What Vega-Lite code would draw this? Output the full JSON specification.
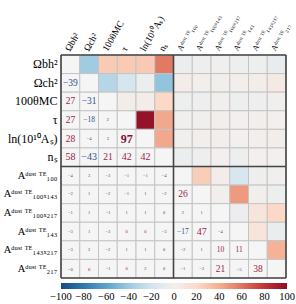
{
  "$schema": "https://vega.github.io/schema/vega-lite/v6.json",
  "width": 225,
  "height": 223,
  "autosize": {"type": "none"},
  "padding": {"left": 61, "top": 55, "right": 10, "bottom": 26},
  "background": "white",
  "datasets": {
    "corr": [
      {"i":0,"j":0,"v":100},{"i":0,"j":1,"v":-39},{"i":0,"j":2,"v":27},{"i":0,"j":3,"v":27},{"i":0,"j":4,"v":28},{"i":0,"j":5,"v":58},{"i":0,"j":6,"v":-4},{"i":0,"j":7,"v":-2},{"i":0,"j":8,"v":-1},{"i":0,"j":9,"v":-3},{"i":0,"j":10,"v":-3},{"i":0,"j":11,"v":-6},
      {"i":1,"j":0,"v":-39},{"i":1,"j":1,"v":100},{"i":1,"j":2,"v":-31},{"i":1,"j":3,"v":-18},{"i":1,"j":4,"v":-4},{"i":1,"j":5,"v":-43},{"i":1,"j":6,"v":3},{"i":1,"j":7,"v":1},{"i":1,"j":8,"v":1},{"i":1,"j":9,"v":1},{"i":1,"j":10,"v":2},{"i":1,"j":11,"v":6},
      {"i":2,"j":0,"v":27},{"i":2,"j":1,"v":-31},{"i":2,"j":2,"v":100},{"i":2,"j":3,"v":2},{"i":2,"j":4,"v":3},{"i":2,"j":5,"v":21},{"i":2,"j":6,"v":-3},{"i":2,"j":7,"v":-2},{"i":2,"j":8,"v":-1},{"i":2,"j":9,"v":-3},{"i":2,"j":10,"v":-2},{"i":2,"j":11,"v":-1},
      {"i":3,"j":0,"v":27},{"i":3,"j":1,"v":-18},{"i":3,"j":2,"v":2},{"i":3,"j":3,"v":100},{"i":3,"j":4,"v":97},{"i":3,"j":5,"v":42},{"i":3,"j":6,"v":-1},{"i":3,"j":7,"v":-1},{"i":3,"j":8,"v":1},{"i":3,"j":9,"v":0},{"i":3,"j":10,"v":1},{"i":3,"j":11,"v":0},
      {"i":4,"j":0,"v":28},{"i":4,"j":1,"v":-4},{"i":4,"j":2,"v":3},{"i":4,"j":3,"v":97},{"i":4,"j":4,"v":100},{"i":4,"j":5,"v":42},{"i":4,"j":6,"v":-1},{"i":4,"j":7,"v":1},{"i":4,"j":8,"v":1},{"i":4,"j":9,"v":0},{"i":4,"j":10,"v":1},{"i":4,"j":11,"v":2},
      {"i":5,"j":0,"v":58},{"i":5,"j":1,"v":-43},{"i":5,"j":2,"v":21},{"i":5,"j":3,"v":42},{"i":5,"j":4,"v":42},{"i":5,"j":5,"v":100},{"i":5,"j":6,"v":-4},{"i":5,"j":7,"v":-2},{"i":5,"j":8,"v":0},{"i":5,"j":9,"v":-3},{"i":5,"j":10,"v":0},{"i":5,"j":11,"v":0},
      {"i":6,"j":0,"v":-4},{"i":6,"j":1,"v":3},{"i":6,"j":2,"v":-3},{"i":6,"j":3,"v":-1},{"i":6,"j":4,"v":-1},{"i":6,"j":5,"v":-4},{"i":6,"j":6,"v":100},{"i":6,"j":7,"v":26},{"i":6,"j":8,"v":2},{"i":6,"j":9,"v":-17},{"i":6,"j":10,"v":-2},{"i":6,"j":11,"v":-1},
      {"i":7,"j":0,"v":-2},{"i":7,"j":1,"v":1},{"i":7,"j":2,"v":-2},{"i":7,"j":3,"v":-1},{"i":7,"j":4,"v":1},{"i":7,"j":5,"v":-2},{"i":7,"j":6,"v":26},{"i":7,"j":7,"v":100},{"i":7,"j":8,"v":1},{"i":7,"j":9,"v":47},{"i":7,"j":10,"v":1},{"i":7,"j":11,"v":-3},
      {"i":8,"j":0,"v":-1},{"i":8,"j":1,"v":1},{"i":8,"j":2,"v":-1},{"i":8,"j":3,"v":1},{"i":8,"j":4,"v":1},{"i":8,"j":5,"v":0},{"i":8,"j":6,"v":2},{"i":8,"j":7,"v":1},{"i":8,"j":8,"v":100},{"i":8,"j":9,"v":-4},{"i":8,"j":10,"v":10},{"i":8,"j":11,"v":21},
      {"i":9,"j":0,"v":-3},{"i":9,"j":1,"v":1},{"i":9,"j":2,"v":-3},{"i":9,"j":3,"v":0},{"i":9,"j":4,"v":0},{"i":9,"j":5,"v":-3},{"i":9,"j":6,"v":-17},{"i":9,"j":7,"v":47},{"i":9,"j":8,"v":-4},{"i":9,"j":9,"v":100},{"i":9,"j":10,"v":11},{"i":9,"j":11,"v":-5},
      {"i":10,"j":0,"v":-3},{"i":10,"j":1,"v":2},{"i":10,"j":2,"v":-2},{"i":10,"j":3,"v":1},{"i":10,"j":4,"v":1},{"i":10,"j":5,"v":0},{"i":10,"j":6,"v":-2},{"i":10,"j":7,"v":1},{"i":10,"j":8,"v":10},{"i":10,"j":9,"v":11},{"i":10,"j":10,"v":100},{"i":10,"j":11,"v":38},
      {"i":11,"j":0,"v":-6},{"i":11,"j":1,"v":6},{"i":11,"j":2,"v":-1},{"i":11,"j":3,"v":0},{"i":11,"j":4,"v":2},{"i":11,"j":5,"v":0},{"i":11,"j":6,"v":-1},{"i":11,"j":7,"v":-3},{"i":11,"j":8,"v":21},{"i":11,"j":9,"v":-5},{"i":11,"j":10,"v":38},{"i":11,"j":11,"v":100}
    ]
  },
  "layer": [
    {
      "data": {"name": "corr"},
      "mark": {"type": "rect", "stroke": "#c4c4c4", "strokeWidth": 1},
      "encoding": {
        "x": {
          "field": "j", "type": "ordinal", "title": null,
          "axis": {
            "orient": "top", "domain": false, "ticks": false,
            "labelAngle": -60, "labelAlign": "left", "labelBaseline": "middle",
            "labelPadding": 5, "labelOffset": -3,
            "labelFont": "Liberation Serif", "labelColor": "#000",
            "labelFontSize": {"condition": {"test": "datum.value >= 6", "value": 8}, "value": 9.5},
            "labelExpr": "['Ωbh²','Ωch²','100θMC','τ','ln(10¹⁰Aₛ)','nₛ','Aᵈᵘˢᵗ ᵀᴱ₁₀₀','Aᵈᵘˢᵗ ᵀᴱ₁₀₀ₓ₁₄₃','Aᵈᵘˢᵗ ᵀᴱ₁₀₀ₓ₂₁₇','Aᵈᵘˢᵗ ᵀᴱ₁₄₃','Aᵈᵘˢᵗ ᵀᴱ₁₄₃ₓ₂₁₇','Aᵈᵘˢᵗ ᵀᴱ₂₁₇'][datum.value]"
          }
        },
        "y": {
          "field": "i", "type": "ordinal", "title": null,
          "axis": {
            "orient": "left", "domain": false, "ticks": false,
            "labelPadding": 4,
            "labelFont": "Liberation Serif", "labelColor": "#000",
            "labelFontSize": {"condition": {"test": "datum.value >= 6", "value": 10.5}, "value": 12},
            "labelExpr": "['Ωbh²','Ωch²','100θMC','τ','ln(10¹⁰Aₛ)','nₛ','Aᵈᵘˢᵗ ᵀᴱ₁₀₀','Aᵈᵘˢᵗ ᵀᴱ₁₀₀ₓ₁₄₃','Aᵈᵘˢᵗ ᵀᴱ₁₀₀ₓ₂₁₇','Aᵈᵘˢᵗ ᵀᴱ₁₄₃','Aᵈᵘˢᵗ ᵀᴱ₁₄₃ₓ₂₁₇','Aᵈᵘˢᵗ ᵀᴱ₂₁₇'][datum.value]"
          }
        },
        "fill": {
          "condition": {
            "test": "datum.j > datum.i",
            "field": "v", "type": "quantitative",
            "scale": {"scheme": "redblue", "reverse": true, "domain": [-100, 100]},
            "legend": {
              "orient": "none", "legendX": 0, "legendY": 228,
              "direction": "horizontal", "gradientLength": 226, "gradientThickness": 6,
              "gradientStrokeWidth": 0, "title": null,
              "values": [-100, -80, -60, -40, -20, 0, 20, 40, 60, 80, 100],
              "labelFont": "Liberation Serif", "labelFontSize": 10.5, "labelColor": "#000",
              "labelOffset": 3, "labelOverlap": false,
              "encode": {"labels": {"update": {"align": {"value": "center"}}}}
            }
          },
          "value": "#f5f5f5"
        }
      }
    },
    {
      "data": {"name": "corr"},
      "transform": [{"filter": "datum.j < datum.i && abs(datum.v) < 90"}],
      "mark": {"type": "text", "font": "Liberation Serif", "baseline": "middle", "align": "center"},
      "encoding": {
        "x": {"field": "j", "type": "ordinal", "title": null},
        "y": {"field": "i", "type": "ordinal", "title": null},
        "text": {"field": "v", "type": "quantitative", "format": "d"},
        "color": {"condition": {"test": "datum.v < 0", "value": "#2d4f8e"}, "value": "#9a2349"},
        "size": {
          "condition": [
            {"test": "abs(datum.v) >= 40", "value": 10},
            {"test": "abs(datum.v) >= 20", "value": 9.5},
            {"test": "abs(datum.v) >= 10", "value": 7.5},
            {"test": "abs(datum.v) >= 5", "value": 5}
          ],
          "value": 4.5
        }
      }
    },
    {
      "data": {"name": "corr"},
      "transform": [{"filter": "datum.j < datum.i && abs(datum.v) >= 90"}],
      "mark": {"type": "text", "font": "Liberation Serif", "fontWeight": "bold", "fontSize": 12, "baseline": "middle", "align": "center", "color": "#7a0f30"},
      "encoding": {
        "x": {"field": "j", "type": "ordinal", "title": null},
        "y": {"field": "i", "type": "ordinal", "title": null},
        "text": {"field": "v", "type": "quantitative", "format": "d"}
      }
    },
    {
      "data": {"values": [{"j": 0}, {"j": 6}]},
      "mark": {"type": "rule", "color": "#444", "strokeWidth": 1.6},
      "encoding": {"x": {"field": "j", "type": "ordinal", "bandPosition": 0, "title": null}}
    },
    {
      "data": {"values": [{"j": 11}]},
      "mark": {"type": "rule", "color": "#444", "strokeWidth": 1.6},
      "encoding": {"x": {"field": "j", "type": "ordinal", "bandPosition": 1, "title": null}}
    },
    {
      "data": {"values": [{"i": 0}, {"i": 6}]},
      "mark": {"type": "rule", "color": "#444", "strokeWidth": 1.6},
      "encoding": {"y": {"field": "i", "type": "ordinal", "bandPosition": 0, "title": null}}
    },
    {
      "data": {"values": [{"i": 11}]},
      "mark": {"type": "rule", "color": "#444", "strokeWidth": 1.6},
      "encoding": {"y": {"field": "i", "type": "ordinal", "bandPosition": 1, "title": null}}
    }
  ],
  "config": {
    "view": {"stroke": null},
    "scale": {"bandPaddingInner": 0, "bandPaddingOuter": 0}
  }
}
